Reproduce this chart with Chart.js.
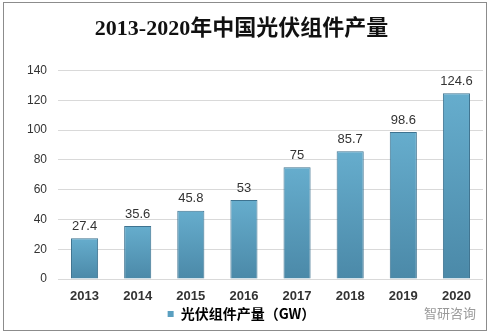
<!DOCTYPE html>
<html lang="zh">
<head>
    <meta charset="UTF-8">
    <title>2013-2020年中国光伏组件产量</title>
    <script src="https://cdn.jsdelivr.net/npm/chart.js"></script>
    <style>
        body { margin: 0; background: #fff; }
        #wrap { position: relative; width: 488px; height: 334px; }
        #frame { position: absolute; left: 3px; top: 2px; width: 482px; height: 327px;
                 border: 1px solid #8c8c8c; pointer-events: none; }
    </style>
</head>
<body>
<div id="wrap">
    <canvas id="pvChart" width="488" height="334"></canvas>
    <div id="frame"></div>
</div>
<script>
    const years = ['2013', '2014', '2015', '2016', '2017', '2018', '2019', '2020'];
    const output = [27.4, 35.6, 45.8, 53, 75, 85.7, 98.6, 124.6];   // GW
    const seriesName = '光伏组件产量（GW）';
    const chartTitle = '2013-2020年中国光伏组件产量';

    // per-bar vertical gradient, lighter on top
    function barFill(ctx) {
        const chart = ctx.chart;
        const area = chart.chartArea;
        if (!area || ctx.parsed === undefined) return '#5a9fc0';
        const y = chart.scales.y;
        const top = y.getPixelForValue(ctx.parsed.y);
        const g = chart.ctx.createLinearGradient(0, top, 0, y.getPixelForValue(0));
        g.addColorStop(0, '#66adcd');
        g.addColorStop(1, '#4b89a8');
        return g;
    }

    // value labels above bars
    const valueLabels = {
        id: 'valueLabels',
        afterDatasetsDraw(chart) {
            const c = chart.ctx;
            const meta = chart.getDatasetMeta(0);
            c.save();
            c.font = '13px "Liberation Sans", Arial, sans-serif';
            c.fillStyle = '#333';
            c.textAlign = 'center';
            c.textBaseline = 'middle';
            meta.data.forEach((bar, i) => {
                c.fillText(String(output[i]), bar.x, bar.y - 12);
            });
            c.restore();
        }
    };

    // faint watermark at bottom right
    const watermark = {
        id: 'watermark',
        afterDraw(chart) {
            const c = chart.ctx;
            c.save();
            c.font = '13px "Noto Sans CJK SC", sans-serif';
            c.fillStyle = '#9a9a9a';
            c.textAlign = 'right';
            c.textBaseline = 'middle';
            c.fillText('智研咨询', 476, 313);
            c.restore();
        }
    };

    new Chart(document.getElementById('pvChart').getContext('2d'), {
        type: 'bar',
        data: {
            labels: years,
            datasets: [{
                label: seriesName,
                data: output,
                backgroundColor: barFill,
                borderColor: '#3e7390',
                borderWidth: 1,
                barPercentage: 0.51,
                categoryPercentage: 1
            }]
        },
        options: {
            responsive: false,
            animation: false,
            layout: { padding: { left: 0, right: 5, top: 0, bottom: 3 } },
            plugins: {
                title: {
                    display: true,
                    text: chartTitle,
                    color: '#111',
                    font: { family: '"Liberation Serif", "Noto Sans CJK SC", serif', size: 22, weight: 'bold' },
                    padding: { top: 16, bottom: 28 }
                },
                legend: {
                    position: 'bottom',
                    labels: {
                        boxWidth: 6,
                        boxHeight: 6,
                        padding: 2,
                        color: '#222',
                        font: { family: '"Noto Sans CJK SC", sans-serif', size: 14, weight: 'bold' },
                        generateLabels: () => [{
                            text: seriesName, fillStyle: '#5a9fc0', strokeStyle: '#5a9fc0',
                            lineWidth: 0, datasetIndex: 0
                        }]
                    }
                },
                tooltip: { enabled: false }
            },
            scales: {
                x: {
                    grid: { display: false, drawTicks: false },
                    border: { display: false },
                    afterFit: (scale) => { scale.height = 26; },
                    ticks: {
                        color: '#333',
                        padding: 10,
                        font: { family: '"Liberation Sans", Arial, sans-serif', size: 13, weight: 'bold' }
                    }
                },
                y: {
                    min: 0,
                    max: 140,
                    afterFit: (scale) => { scale.width = 58; },
                    ticks: {
                        stepSize: 20,
                        color: '#333',
                        padding: 11,
                        font: { family: '"Liberation Sans", Arial, sans-serif', size: 12 }
                    },
                    grid: { color: '#d9d9d9', drawTicks: false },
                    border: { display: false }
                }
            }
        },
        plugins: [valueLabels, watermark]
    });
</script>
</body>
</html>
